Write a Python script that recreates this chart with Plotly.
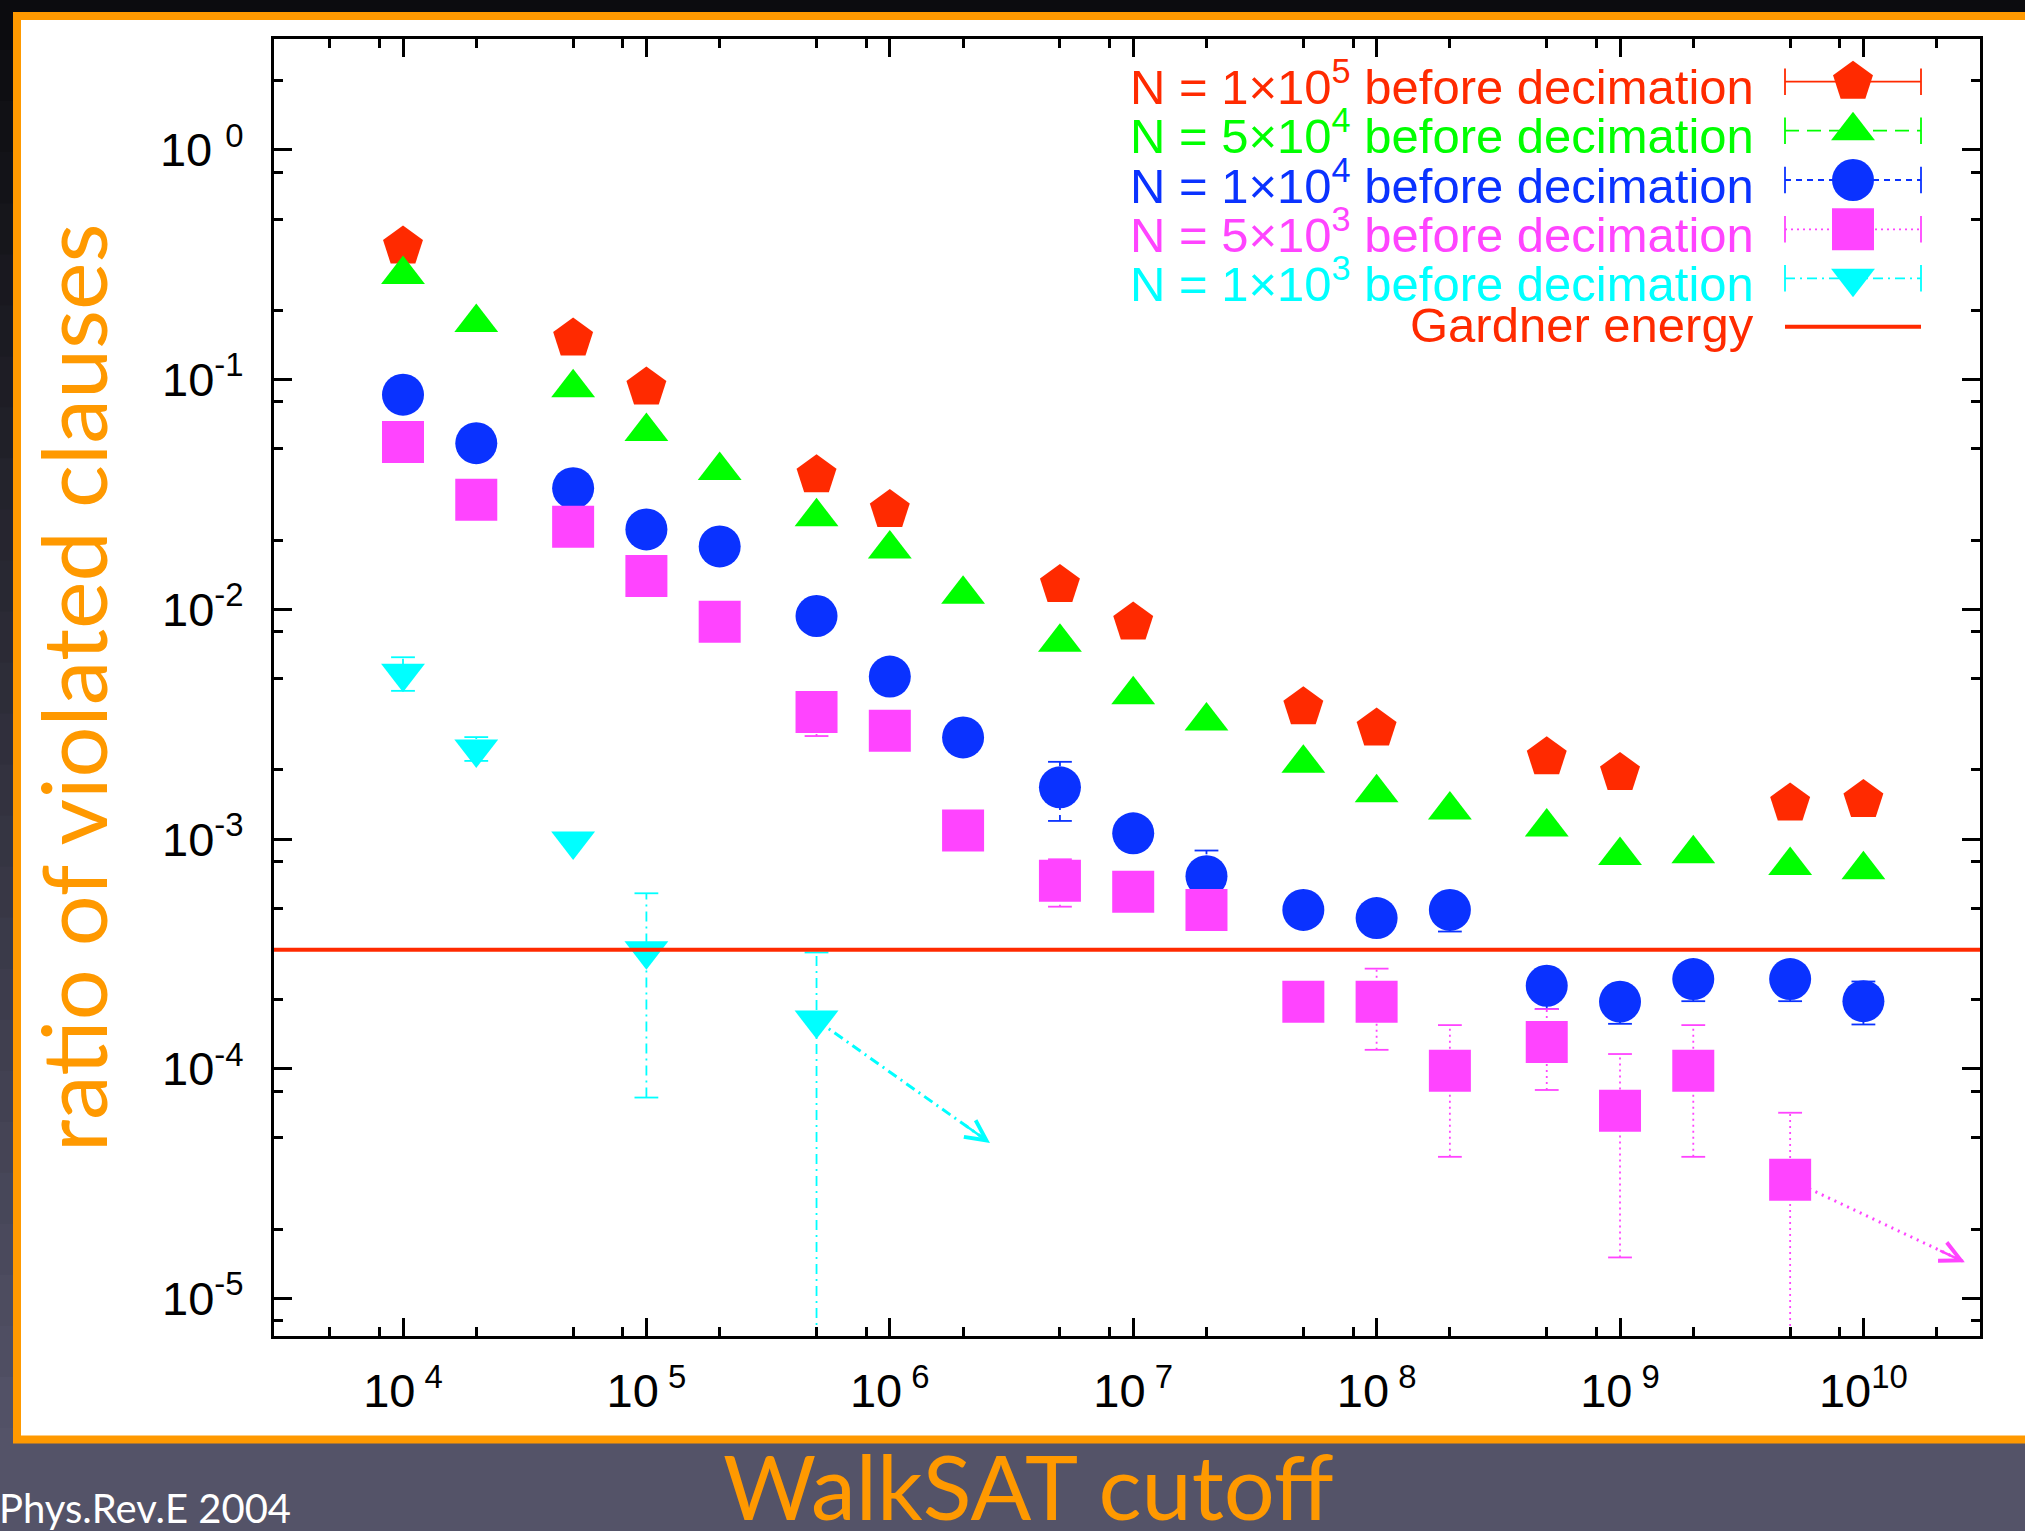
import numpy as np
import plotly.graph_objects as go

# ---------------- data ----------------
x_red = [1e4, 5e4, 1e5, 5e5, 1e6, 5e6, 1e7, 5e7, 1e8, 5e8, 1e9, 5e9, 1e10]
y_red = [0.380, 0.151, 0.0925, 0.0384, 0.0271, 0.01277, 0.00877, 0.00375,
         0.00303, 0.00227, 0.00194, 0.00143, 0.00148]

x_all = [1e4, 2e4, 5e4, 1e5, 2e5, 5e5, 1e6, 2e6, 5e6, 1e7, 2e7, 5e7, 1e8,
         2e8, 5e8, 1e9, 2e9, 5e9, 1e10]
y_green = [0.287, 0.1775, 0.0923, 0.0595, 0.0402, 0.0253, 0.0183, 0.01163,
           0.0072, 0.00425, 0.00327, 0.00214, 0.00159, 0.00134, 0.00113,
           0.000849, 0.000864, 0.000767, 0.000735]
y_blue = [0.0860, 0.0529, 0.0337, 0.0223, 0.0188, 0.00936, 0.0051, 0.00277,
          0.00168, 0.00106, 0.00069, 0.000492, 0.000453, 0.000492, 0.000230,
          0.000196, 0.000246, 0.000246, 0.000197]
blue_lo = [None] * 8 + [0.00120, None, None, None, None, 0.000396, 0.000182,
                        0.000157, 0.000197, 0.000197, 0.000156]
blue_hi = [None] * 8 + [0.00217, None, 0.000892, None, None, None, None,
                        None, None, None, 0.000240]

x_mag = x_all[:-1]
y_mag = [0.0535, 0.0300, 0.0229, 0.01397, 0.00883, 0.00358, 0.00296, 0.00109,
         0.000659, 0.000590, 0.000492, 0.000196, 0.000196, 0.0000982,
         0.000131, 0.0000657, 0.0000982, 0.0000329]
mag_lo = [None] * 5 + [0.00281, None, None, 0.000508, None, None, None,
                       0.000121, 0.0000414, 0.0000809, 0.0000151, 0.0000414, 1e-7]
mag_hi = [None] * 8 + [0.000817, None, None, None, 0.000273, 0.000155,
                       0.000182, 0.000116, 0.000155, 0.0000644]

x_cyan = [1e4, 2e4, 5e4, 1e5, 5e5]
y_cyan = [0.00527, 0.00247, 0.000982, 0.000327, 0.000163]
cyan_lo = [0.00442, 0.00219, None, 0.000075, 1e-7]
cyan_hi = [0.00619, 0.00278, None, 0.000581, 0.000321]

gardner_energy = 3.30e-4

# upper-limit arrows: (start point, arrow tip)
arrow_cyan = [(5e5, 1.63e-4), (2.58e6, 4.76e-5)]
arrow_mag = [(5e9, 3.29e-5), (2.61e10, 1.44e-5)]

x_tickvals = [1e4, 1e5, 1e6, 1e7, 1e8, 1e9, 1e10]
x_ticktext = ["10<sup> 4</sup>", "10<sup> 5</sup>", "10<sup> 6</sup>", "10<sup> 7</sup>",
              "10<sup> 8</sup>", "10<sup> 9</sup>", "10<sup>10</sup>"]
y_tickvals = [1e-5, 1e-4, 1e-3, 1e-2, 1e-1, 1e0]
y_ticktext = ["10<sup>-5</sup>", "10<sup>-4</sup>", "10<sup>-3</sup>", "10<sup>-2</sup>",
              "10<sup>-1</sup>", "10 <sup>0</sup>"]

legend_labels = ["N = 1×10<sup>5</sup> before decimation",
                 "N = 5×10<sup>4</sup> before decimation",
                 "N = 1×10<sup>4</sup> before decimation",
                 "N = 5×10<sup>3</sup> before decimation",
                 "N = 1×10<sup>3</sup> before decimation",
                 "Gardner energy"]

# ---------------- styling / layout geometry ----------------
W, H = 2025, 1531
PL, PT, PR, PB = 274, 39, 1980, 1336
XR = [3.470, 10.479]
YR = [-5.163, 0.483]

RED, GREEN, BLUE, MAG, CYAN = "#ff2a00", "#00ff00", "#0a32ff", "#ff44ff", "#00ffff"
ORANGE = "#ff9900"
TICKFONT = "Liberation Sans, Arial, Helvetica, sans-serif"
TITLEFONT = "Lato, 'Open Sans', sans-serif"


def px(xp):
    return (xp - PL) / (PR - PL)


def py(yp):
    return (PB - yp) / (PB - PT)


def minor_vals(lo, hi):
    out = []
    for k in range(lo, hi + 1):
        for m in (2, 5, 8):
            out.append(m * 10.0 ** k)
    return out


def err_segments(xs, ys, lo, hi):
    sx, sy, cx, cy = [], [], [], []
    for x, y, l, h in zip(xs, ys, lo, hi):
        if l is None and h is None:
            continue
        a = l if l is not None else y
        b = h if h is not None else y
        sx += [x, x, None]
        sy += [a, b, None]
        if l is not None:
            cx.append(x); cy.append(l)
        if h is not None:
            cx.append(x); cy.append(h)
    return sx, sy, cx, cy


fig = go.Figure()

series = [
    dict(x=x_red, y=y_red, lo=None, hi=None, color=RED, symbol="pentagon", size=42, dash="solid"),
    dict(x=x_all, y=y_green, lo=None, hi=None, color=GREEN, symbol="triangle-up", size=38, dash="14px,8px"),
    dict(x=x_all, y=y_blue, lo=blue_lo, hi=blue_hi, color=BLUE, symbol="circle", size=42, dash="6px,5px"),
    dict(x=x_mag, y=y_mag, lo=mag_lo, hi=mag_hi, color=MAG, symbol="square", size=42, dash="2px,4px"),
    dict(x=x_cyan, y=y_cyan, lo=cyan_lo, hi=cyan_hi, color=CYAN, symbol="triangle-down", size=38, dash="10px,5px,2px,5px"),
]

arrows = {3: (arrow_mag, "2px,5px"), 4: (arrow_cyan, "10px,5px,2px,5px")}

for i, s in enumerate(series):
    if i in arrows:
        (p0, p1), dsh = arrows[i]
        fig.add_trace(go.Scatter(x=[p0[0], p1[0]], y=[p0[1], p1[1]], mode="lines",
                                 line=dict(color=s["color"], width=3, dash=dsh),
                                 hoverinfo="skip", showlegend=False))
    if s["lo"] is not None:
        sx, sy, cx, cy = err_segments(s["x"], s["y"], s["lo"], s["hi"])
        fig.add_trace(go.Scatter(x=sx, y=sy, mode="lines",
                                 line=dict(color=s["color"], width=1.8, dash=s["dash"]),
                                 hoverinfo="skip", showlegend=False))
        fig.add_trace(go.Scatter(x=cx, y=cy, mode="markers",
                                 marker=dict(symbol="line-ew", size=17,
                                             line=dict(color=s["color"], width=1.8)),
                                 hoverinfo="skip", showlegend=False))
    fig.add_trace(go.Scatter(x=s["x"], y=s["y"], mode="markers",
                             marker=dict(symbol=s["symbol"], size=s["size"], color=s["color"],
                                         line=dict(width=0)),
                             showlegend=False))

# arrow heads
annotations = []
for (p0, p1), col in ((arrow_cyan, CYAN), (arrow_mag, MAG)):
    lx0, ly0 = np.log10(p0[0]), np.log10(p0[1])
    lx1, ly1 = np.log10(p1[0]), np.log10(p1[1])
    annotations.append(dict(x=lx1, y=ly1, xref="x", yref="y",
                            ax=lx0 + 0.85 * (lx1 - lx0), ay=ly0 + 0.85 * (ly1 - ly0),
                            axref="x", ayref="y", text="", showarrow=True,
                            arrowhead=5, arrowsize=1.6, arrowwidth=2.5, arrowcolor=col))

# ---------------- manual legend (overlay axes in 0..1 units) ----------------
rows_px = [81.7, 130.7, 180.0, 229.3, 278.3, 326.7]
lx0, lx1, lxm = px(1785), px(1921), px(1853)
for i, s in enumerate(series):
    ry = py(rows_px[i])
    fig.add_trace(go.Scatter(x=[lx0, lx1], y=[ry, ry], mode="lines", xaxis="x2", yaxis="y2",
                             line=dict(color=s["color"], width=1.8, dash=s["dash"]),
                             hoverinfo="skip", showlegend=False))
    fig.add_trace(go.Scatter(x=[lx0, lx1], y=[ry, ry], mode="markers", xaxis="x2", yaxis="y2",
                             marker=dict(symbol="line-ns", size=19,
                                         line=dict(color=s["color"], width=1.8)),
                             hoverinfo="skip", showlegend=False))
    fig.add_trace(go.Scatter(x=[lxm], y=[ry], mode="markers", xaxis="x2", yaxis="y2",
                             marker=dict(symbol=s["symbol"], size=s["size"], color=s["color"],
                                         line=dict(width=0)),
                             hoverinfo="skip", showlegend=False))
ry = py(rows_px[5])
fig.add_trace(go.Scatter(x=[lx0, lx1], y=[ry, ry], mode="lines", xaxis="x2", yaxis="y2",
                         line=dict(color=RED, width=4), hoverinfo="skip", showlegend=False))

legend_colors = [RED, GREEN, BLUE, MAG, CYAN, RED]
legend_dy = [1.5, 1.5, 1.5, 1.5, 1.5, -1.5]
for i, (lab, col) in enumerate(zip(legend_labels, legend_colors)):
    annotations.append(dict(x=px(1756), y=py(rows_px[i] + legend_dy[i]), xref="paper", yref="paper",
                            xanchor="right", yanchor="middle", text=lab, showarrow=False,
                            font=dict(family=TICKFONT, size=49, color=col)))

# titles and credits
annotations.append(dict(x=px(72), y=py(688), xref="paper", yref="paper", text="ratio of violated clauses",
                        textangle=-90, showarrow=False, xanchor="center", yanchor="middle",
                        font=dict(family=TITLEFONT, size=90, color=ORANGE)))
annotations.append(dict(x=px(1028), y=py(1485), xref="paper", yref="paper", text="WalkSAT cutoff",
                        showarrow=False, xanchor="center", yanchor="middle",
                        font=dict(family=TITLEFONT, size=90, color=ORANGE)))
annotations.append(dict(x=px(-3), y=py(1508), xref="paper", yref="paper", text="Phys.Rev.E 2004",
                        showarrow=False, xanchor="left", yanchor="middle",
                        font=dict(family=TITLEFONT, size=40, color="white")))

# ---------------- background shapes ----------------
shapes = []
nb = 30
c0 = np.array([12, 12, 15])
c1 = np.array([84, 83, 104])
for k in range(nb):
    t = k / (nb - 1)
    c = (c0 + (c1 - c0) * min(1.0, t * 1.05)).astype(int)
    shapes.append(dict(type="rect", xref="paper", yref="paper", layer="below",
                       x0=px(-10), x1=px(W + 10), y0=py(k * H / nb - 1), y1=py((k + 1) * H / nb + 1),
                       fillcolor="rgb(%d,%d,%d)" % tuple(c), line=dict(width=0)))
shapes.append(dict(type="rect", xref="paper", yref="paper", layer="below",
                   x0=px(17), x1=px(W + 60), y0=py(16), y1=py(1439.5),
                   fillcolor="white", line=dict(color=ORANGE, width=8)))
shapes.append(dict(type="line", xref="paper", yref="y", layer="above",
                   x0=0, x1=1, y0=gardner_energy, y1=gardner_energy,
                   line=dict(color=RED, width=4)))

axis_common = dict(type="log", showgrid=False, zeroline=False, showline=True, linecolor="black",
                   linewidth=3, mirror="ticks", ticks="inside", ticklen=18, tickwidth=2.5,
                   tickcolor="black", tickmode="array", automargin=False,
                   tickfont=dict(family=TICKFONT, size=47, color="black"))

fig.update_layout(
    width=W, height=H,
    margin=dict(l=PL, r=W - PR, t=PT, b=H - PB, pad=0),
    paper_bgcolor="#545368", plot_bgcolor="white",
    showlegend=False,
    xaxis=dict(range=XR, tickvals=x_tickvals, ticktext=x_ticktext, ticklabelstandoff=12,
               minor=dict(tickmode="array", tickvals=minor_vals(3, 10), ticks="inside",
                          ticklen=9, tickwidth=2.5, tickcolor="black"),
               **axis_common),
    yaxis=dict(range=YR, tickvals=y_tickvals, ticktext=y_ticktext, ticklabelstandoff=18,
               minor=dict(tickmode="array", tickvals=minor_vals(-6, 0), ticks="inside",
                          ticklen=9, tickwidth=2.5, tickcolor="black"),
               **axis_common),
    xaxis2=dict(overlaying="x", anchor="y2", range=[0, 1], visible=False, fixedrange=True),
    yaxis2=dict(overlaying="y", anchor="x2", range=[0, 1], visible=False, fixedrange=True),
    annotations=annotations,
    shapes=shapes,
)

fig.write_html(
    "out.html",
    config={"displayModeBar": False},
    post_script="document.body.style.margin='0';document.body.style.overflow='hidden';"
                "document.documentElement.style.overflow='hidden';"
                "document.body.style.background='#545368';",
)
